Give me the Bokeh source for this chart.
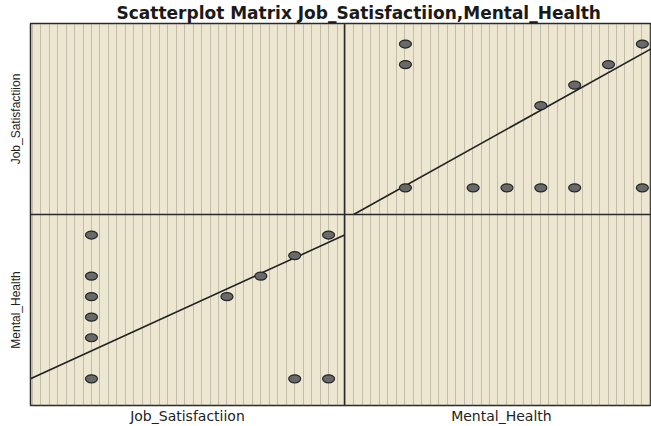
from bokeh.plotting import figure
from bokeh.models import Range1d, Span, FixedTicker, SingleIntervalTicker, ColumnDataSource
from bokeh.embed import file_html
from bokeh.resources import INLINE

# ---- data ----
job_satisfaction = [1, 1, 1, 1, 1, 1, 5, 6, 7, 8, 7, 8]
mental_health    = [8, 6, 5, 4, 3, 1, 5, 6, 7, 8, 1, 1]
var_names = ["Job_Satisfactiion", "Mental_Health"]
title_text = "Scatterplot Matrix Job_Satisfactiion,Mental_Health"

# fit lines drawn in the panels (slope, intercept)
fit_mh_on_js = (0.755, 1.604)   # lower-left panel: y = Mental_Health, x = Job_Satisfactiion
fit_js_on_mh = (0.918, 0.187)   # upper-right panel: y = Job_Satisfactiion, x = Mental_Health

# panel axis extents
x_lo, x_hi = -0.8, 8.47          # left panel x extent
mh_vis_hi = 8.27                 # right panel visible x extent (cropped at right edge)
y_lo, y_hi = -0.3, 9.0           # each panel's y extent

# ---- geometry ----
W, H = 651, 426
LEFT_W, RIGHT_W = 314, 307
FRAME_W = LEFT_W + RIGHT_W

main_x = Range1d(x_lo, x_lo + (x_hi - x_lo) * FRAME_W / LEFT_W)
mh_x = Range1d(x_lo - (mh_vis_hi - x_lo) * LEFT_W / RIGHT_W, mh_vis_hi)
main_y = Range1d(y_lo, y_lo + 2 * (y_hi - y_lo))          # lower panel
js_y = Range1d(y_lo - (y_hi - y_lo), y_hi)                 # upper panel

p = figure(width=W, height=H, output_backend="svg", toolbar_location=None,
           x_range=main_x, y_range=main_y,
           min_border_left=30, min_border_right=0, min_border_top=22, min_border_bottom=20,
           background_fill_color="#ede7d2", border_fill_color="white",
           outline_line_color="#2a2a2a", outline_line_width=1.5)
p.extra_x_ranges = {"mh": mh_x}
p.extra_y_ranges = {"jsy": js_y}

# title
p.title.text = title_text
p.title.align = "left"
p.title.offset = 86
p.title.text_font = "DejaVu Sans"
p.title.text_font_style = "bold"
p.title.text_font_size = "17px"
p.title.text_color = "#1a1a1a"
p.title.standoff = 1

# dotted vertical texture
p.ygrid.visible = False
p.xgrid.ticker = SingleIntervalTicker(interval=0.25)
p.xgrid.grid_line_color = "#7a7565"
p.xgrid.grid_line_dash = "1 1"
p.xgrid.grid_line_width = 1
p.xgrid.grid_line_alpha = 0.75

# axes as panel labels
def to_main_x(v_mh):
    return main_x.start + (v_mh - mh_x.start) * (main_x.end - main_x.start) / (mh_x.end - mh_x.start)

def to_main_y(v_js):
    return main_y.start + (v_js - js_y.start) * (main_y.end - main_y.start) / (js_y.end - js_y.start)

cx = round((x_lo + x_hi) / 2, 3)
cx_r = round(to_main_x((x_lo + x_hi) / 2), 3)
cy = round((y_lo + y_hi) / 2, 3)
cy_t = round(to_main_y((y_lo + y_hi) / 2), 3)

xa = p.xaxis[0]
xa.ticker = FixedTicker(ticks=[cx, cx_r])
xa.major_label_overrides = {cx: var_names[0], cx_r: var_names[1]}
xa.major_tick_in = 0
xa.major_tick_out = 0
xa.minor_tick_in = 0
xa.minor_tick_out = 0
xa.axis_line_color = None
xa.major_label_standoff = 2
xa.major_label_text_font = "DejaVu Sans"
xa.major_label_text_font_size = "14px"
xa.major_label_text_color = "#222222"

ya = p.yaxis[0]
ya.ticker = FixedTicker(ticks=[cy, cy_t])
ya.major_label_overrides = {cy: var_names[1], cy_t: var_names[0]}
ya.major_label_orientation = "vertical"
ya.major_tick_in = 0
ya.major_tick_out = 0
ya.minor_tick_in = 0
ya.minor_tick_out = 0
ya.axis_line_color = None
ya.major_label_standoff = 8
ya.major_label_text_font = "Liberation Sans"
ya.major_label_text_font_size = "12px"
ya.major_label_text_color = "#222222"

# panel dividers
p.add_layout(Span(location=x_hi, dimension="height", line_color="#2a2a2a", line_width=1.5))
p.add_layout(Span(location=y_hi, dimension="width", line_color="#2a2a2a", line_width=1.5))

src = ColumnDataSource(dict(js=job_satisfaction, mh=mental_health))

# lower-left: x = Job_Satisfactiion, y = Mental_Health
m1, b1 = fit_mh_on_js
lx = [x_lo, x_hi]
p.line(lx, [b1 + m1 * v for v in lx], line_color="#222222", line_width=1.6)
p.ellipse(x="js", y="mh", source=src, width=12, height=8,
          width_units="screen", height_units="screen",
          fill_color="#696969", line_color="#262626", line_width=1.2)

# upper-right: x = Mental_Health, y = Job_Satisfactiion
m2, b2 = fit_js_on_mh
rx = [max(x_lo, (y_lo - b2) / m2), mh_vis_hi + 1]
p.line(rx, [b2 + m2 * v for v in rx], x_range_name="mh", y_range_name="jsy",
       line_color="#222222", line_width=1.6)
p.ellipse(x="mh", y="js", source=src, width=12, height=8,
          width_units="screen", height_units="screen",
          x_range_name="mh", y_range_name="jsy",
          fill_color="#696969", line_color="#262626", line_width=1.2)

open("out.html", "w").write(file_html(p, INLINE))
